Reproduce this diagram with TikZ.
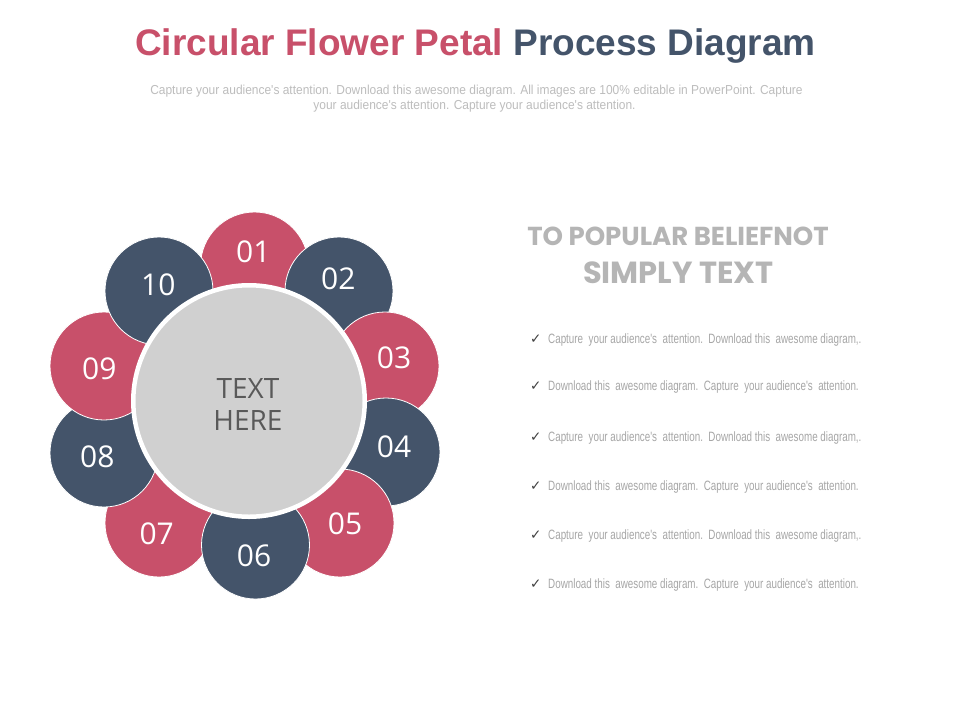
\documentclass[tikz,border=0pt]{standalone}
\usepackage{fontspec}
\setmainfont{Liberation Sans}
\newfontfamily\titlefont{Liberation Sans}
\newfontfamily\numfont{Open Sans}
\newfontfamily\headfont{Poppins}
\newfontfamily\narrowfont[FakeStretch=0.728]{Liberation Sans}
\newfontfamily\subfont[FakeStretch=0.92]{Liberation Sans}
\newfontfamily\symfont{DejaVu Sans}
\definecolor{petalpink}{HTML}{C8506A}
\definecolor{petalblue}{HTML}{44546A}
\definecolor{hubgray}{HTML}{D0D0D0}
\definecolor{hubtextc}{HTML}{595959}
\definecolor{subgray}{HTML}{BDBDBD}
\definecolor{headgray}{HTML}{B5B5B5}
\definecolor{bulletgray}{HTML}{A6A6A6}
\definecolor{checkgray}{HTML}{404040}
\tikzset{
  petal/.style={circle, minimum size=108pt, inner sep=0pt, draw=white, line width=0.8pt},
  pinkpetal/.style={petal, fill=petalpink},
  bluepetal/.style={petal, fill=petalblue},
  num/.style={font=\numfont\fontsize{30}{36}\selectfont, text=white, inner sep=0pt},
  subline/.style={anchor=base, font=\subfont\fontsize{13}{15}\selectfont, text=subgray, inner sep=0pt},
  headline/.style={anchor=base, font=\headfont\bfseries, text=headgray, inner sep=0pt},
  checkmk/.style={anchor=base west, font=\symfont\fontsize{13.5}{15}\selectfont, text=checkgray, inner sep=0pt},
  bullettext/.style={anchor=base west, font=\narrowfont\fontsize{13.5}{15}\selectfont, text=bulletgray, inner sep=0pt}
}
\begin{document}
\begin{tikzpicture}[x=1pt,y=-1pt]
\path[use as bounding box, fill=white] (0,0) rectangle (960,720);
% title
\node[anchor=base, inner sep=0pt, font=\titlefont\bfseries\fontsize{37}{44}\selectfont] (title) at (475.5,55)
  {\textcolor{petalpink}{Circular Flower Petal} \textcolor{petalblue}{Process Diagram}};
\node[subline] (sub1) at (476.5,94) {Capture your audience's attention. Download this awesome diagram. All images are 100\% editable in PowerPoint. Capture};
\node[subline] (sub2) at (474.5,109.5) {your audience's attention. Capture your audience's attention.};
% petals (drawing order matters)
\node[pinkpetal] (p01) at (254.5,266) {};
\node[pinkpetal] (p07) at (159,523) {};
\node[bluepetal] (p08) at (104,453) {};
\node[pinkpetal] (p09) at (104,366) {};
\node[bluepetal] (p10) at (159,291) {};
\node[bluepetal] (p02) at (339,291) {};
\node[pinkpetal] (p03) at (385,366) {};
\node[bluepetal] (p04) at (386,452) {};
\node[pinkpetal] (p05) at (340,523) {};
\node[bluepetal] (p06) at (255.5,545) {};
% hub
\node[circle, fill=hubgray, draw=white, line width=4.5pt, minimum size=231.5pt, inner sep=0pt] (hub) at (249,401) {};
\node[align=center, text=hubtextc, font=\numfont\fontsize{28}{32}\selectfont, inner sep=0pt] (hubtext) at (248,404) {TEXT\\HERE};
% numbers
\node[num] (n01) at (253.3,251.7) {01};
\node[num] (n02) at (338.3,278.3) {02};
\node[num] (n03) at (394,357.3) {03};
\node[num] (n04) at (394,446.7) {04};
\node[num] (n05) at (345,523.3) {05};
\node[num] (n06) at (254,556) {06};
\node[num] (n07) at (156.7,533.3) {07};
\node[num] (n08) at (97.3,456.7) {08};
\node[num] (n09) at (99.3,368.3) {09};
\node[num] (n10) at (158.3,285) {10};
% right heading
\node[headline, font=\headfont\bfseries\fontsize{26}{30}\selectfont] (head1) at (678,245) {TO POPULAR BELIEFNOT};
\node[headline, font=\headfont\bfseries\fontsize{30.5}{36}\selectfont] (head2) at (678.5,283) {SIMPLY TEXT};
% bullets
\node[checkmk] (c1) at (530,343) {✓};
\node[bullettext] (b1) at (548,343) {Capture\ \ your audience's\ \ attention.\ \ Download this\ \ awesome diagram,.};
\node[checkmk] (c2) at (530,390) {✓};
\node[bullettext] (b2) at (548,390) {Download this\ \ awesome diagram.\ \ Capture\ \ your audience's\ \ attention.};
\node[checkmk] (c3) at (530,441) {✓};
\node[bullettext] (b3) at (548,441) {Capture\ \ your audience's\ \ attention.\ \ Download this\ \ awesome diagram,.};
\node[checkmk] (c4) at (530,490) {✓};
\node[bullettext] (b4) at (548,490) {Download this\ \ awesome diagram.\ \ Capture\ \ your audience's\ \ attention.};
\node[checkmk] (c5) at (530,539) {✓};
\node[bullettext] (b5) at (548,539) {Capture\ \ your audience's\ \ attention.\ \ Download this\ \ awesome diagram,.};
\node[checkmk] (c6) at (530,588) {✓};
\node[bullettext] (b6) at (548,588) {Download this\ \ awesome diagram.\ \ Capture\ \ your audience's\ \ attention.};
\end{tikzpicture}
\end{document}
